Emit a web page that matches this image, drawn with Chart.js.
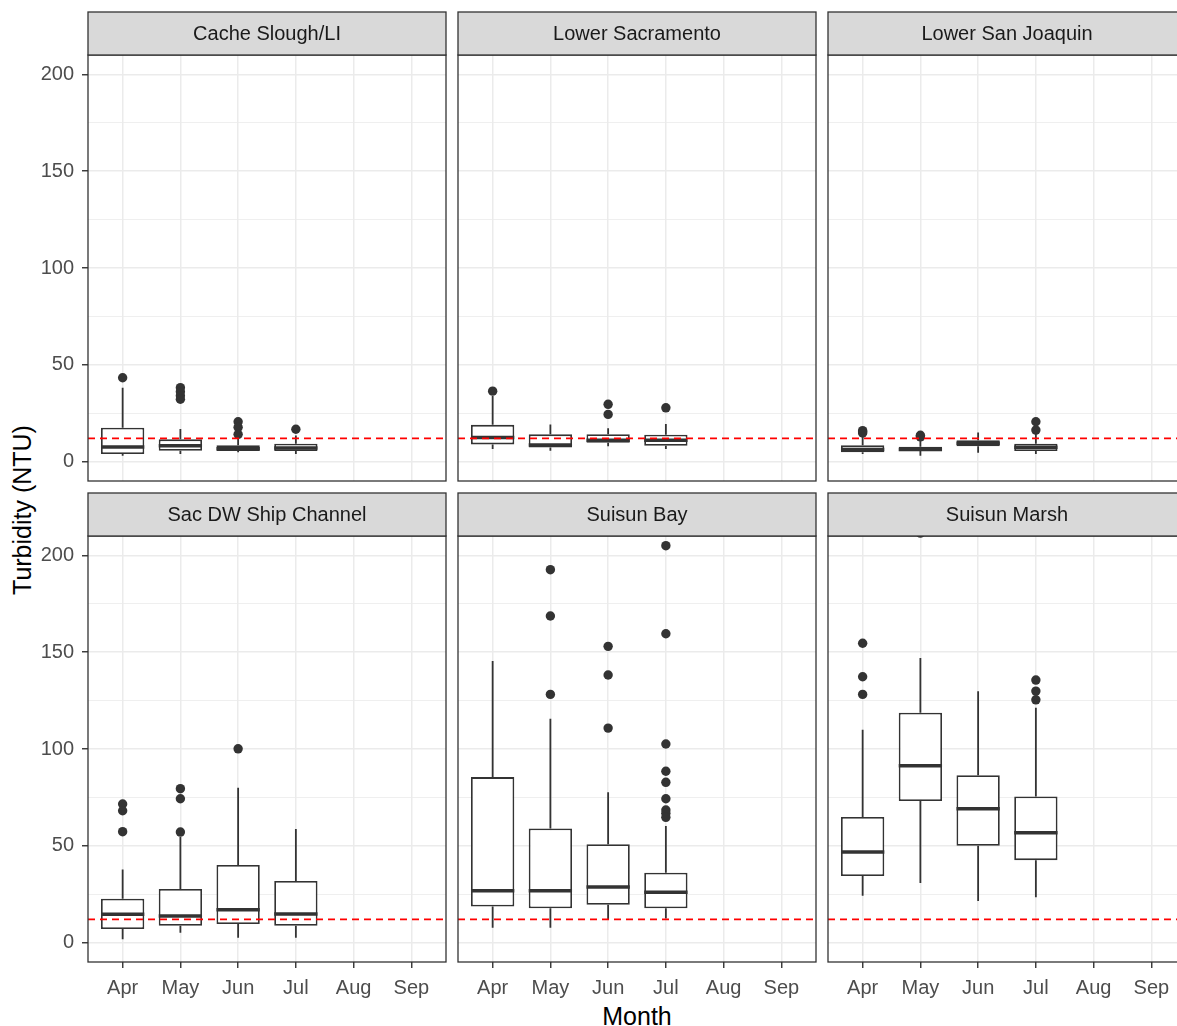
<!DOCTYPE html>
<html>
<head>
<meta charset="utf-8">
<script src="https://cdn.jsdelivr.net/npm/chart.js@4.4.1/dist/chart.umd.min.js"></script>
<style>
  html, body { margin: 0; padding: 0; background: #fff; overflow: hidden; }
  body { width: 1177px; height: 1026px; position: relative; font-family: "Liberation Sans", Arial, sans-serif; }
  .panel { position: absolute; }
  #ytitle { position: absolute; left: 22px; top: 510px; transform: translate(-50%, -50%) rotate(-90deg); font-size: 25px; white-space: nowrap; color: #000; }
  #xtitle { position: absolute; left: 637px; top: 1016px; transform: translate(-50%, -50%); font-size: 25px; color: #000; }
</style>
</head>
<body>
<div id="ytitle">Turbidity (NTU)</div>
<div id="xtitle">Month</div>
<script>
// Month axis and facet names
const months = ['Apr', 'May', 'Jun', 'Jul', 'Aug', 'Sep'];
const regions = ['Cache Slough/LI', 'Lower Sacramento', 'Lower San Joaquin',
                 'Sac DW Ship Channel', 'Suisun Bay', 'Suisun Marsh'];
const yTicks = [0, 25, 50, 75, 100, 125, 150, 175, 200];
const threshold = 12;

// Box stats per month (Apr..Jul): [lower whisker, Q1, median, Q3, upper whisker]
const cacheSloughBox = [[3.0, 3.9, 7.5, 17.5, 38.2], [3.9, 5.6, 8.2, 11.5, 16.8], [4.8, 5.5, 6.6, 8.4, 12.0], [3.9, 5.5, 7.0, 9.2, 13.5]];
const cacheSloughOut = [[43.3], [38.2, 36.1, 34.0, 32.2], [20.6, 17.7, 14.1], [16.7]];

const lowerSacBox = [[6.5, 8.9, 12.5, 19.0, 33.9], [5.6, 7.3, 8.6, 14.1, 19.2], [8.0, 9.7, 11.1, 14.2, 17.2], [6.5, 8.2, 11.1, 13.9, 19.4]];
const lowerSacOut = [[36.4], [], [29.6, 24.4], [27.8]];

const lowerSjBox = [[3.9, 4.8, 6.3, 8.4, 13.0], [3.0, 5.5, 6.3, 7.7, 11.5], [4.6, 8.0, 9.5, 11.1, 15.1], [3.9, 5.5, 7.4, 9.2, 14.5]];
const lowerSjOut = [[16.0, 15.4, 14.8], [13.6, 12.8], [], [20.6, 16.3]];

const sacDwscBox = [[1.8, 7.0, 14.6, 22.7, 37.8], [5.1, 8.7, 13.7, 27.7, 54.5], [2.5, 9.6, 17.0, 40.1, 80.0], [2.5, 8.7, 14.8, 31.8, 58.7]];
const sacDwscOut = [[71.6, 68.1, 57.3], [79.5, 74.3, 57.1], [100.1], []];

const suisunBayBox = [[7.7, 18.7, 26.8, 85.5, 145.4], [7.7, 17.7, 26.8, 59.0, 115.6], [11.7, 19.6, 28.7, 50.8, 77.6], [12.5, 17.7, 26.0, 36.1, 60.2]];
const suisunBayOut = [[], [192.6, 168.7, 128.2], [153.0, 138.2, 110.8], [205.0, 159.5, 102.6, 88.5, 82.8, 74.3, 68.5, 66.8, 64.7]];

const suisunMarshBox = [[24.2, 34.4, 46.8, 64.9, 109.9], [30.8, 73.1, 91.4, 118.7, 147.0], [21.5, 50.0, 69.1, 86.5, 129.8], [23.4, 42.6, 56.7, 75.5, 121.3]];
const suisunMarshOut = [[154.6, 137.3, 128.2], [211.5], [], [135.6, 129.9, 125.4]];

const boxes = [cacheSloughBox, lowerSacBox, lowerSjBox, sacDwscBox, suisunBayBox, suisunMarshBox];
const outliers = [cacheSloughOut, lowerSacOut, lowerSjOut, sacDwscOut, suisunBayOut, suisunMarshOut];

// layout of the facet grid
const panelLeft = [88, 458, 828];
const panelW = 358;
const panelH = 426;
const stripH = 43;
const stripTop = [12, 493];
const leftAxisW = 88;
const bottomAxisH = 60;

const FONT = '"Liberation Sans", Arial, sans-serif';
const DARK = '#333333';

function clipToArea(ctx, a) {
  ctx.beginPath();
  ctx.rect(a.left, a.top, a.right - a.left, a.bottom - a.top);
  ctx.clip();
}

const facetPlugin = {
  id: 'facet',
  beforeDatasetsDraw(chart, args, opts) {
    const { ctx, chartArea: a, scales: { x, y } } = chart;
    ctx.save();
    clipToArea(ctx, a);
    ctx.strokeStyle = DARK;
    ctx.lineWidth = 1.8;
    opts.stats.forEach((s, i) => {
      const px = x.getPixelForValue(i);
      ctx.beginPath();
      ctx.moveTo(px, y.getPixelForValue(s[0]));
      ctx.lineTo(px, y.getPixelForValue(s[1]));
      ctx.moveTo(px, y.getPixelForValue(s[3]));
      ctx.lineTo(px, y.getPixelForValue(s[4]));
      ctx.stroke();
    });
    ctx.restore();
  },
  afterDatasetsDraw(chart, args, opts) {
    const { ctx, chartArea: a, scales: { x, y } } = chart;
    ctx.save();
    clipToArea(ctx, a);
    ctx.strokeStyle = DARK;
    ctx.lineWidth = 3.5;
    opts.stats.forEach((s, i) => {
      const py = y.getPixelForValue(s[2]);
      ctx.beginPath();
      ctx.moveTo(x.getPixelForValue(i - 0.375), py);
      ctx.lineTo(x.getPixelForValue(i + 0.375), py);
      ctx.stroke();
    });
    // reference line
    const ty = y.getPixelForValue(threshold);
    ctx.strokeStyle = '#FF0000';
    ctx.lineWidth = 1.6;
    ctx.setLineDash([7, 5]);
    ctx.beginPath();
    ctx.moveTo(a.left, ty);
    ctx.lineTo(a.right, ty);
    ctx.stroke();
    ctx.restore();
  },
  afterDraw(chart, args, opts) {
    const { ctx, chartArea: a } = chart;
    ctx.save();
    ctx.strokeStyle = DARK;
    ctx.lineWidth = 1.3;
    ctx.strokeRect(a.left, a.top, a.right - a.left, a.bottom - a.top);
    ctx.fillStyle = '#D9D9D9';
    ctx.fillRect(a.left, a.top - stripH, a.right - a.left, stripH);
    ctx.strokeRect(a.left, a.top - stripH, a.right - a.left, stripH);
    ctx.fillStyle = '#1A1A1A';
    ctx.font = '20px ' + FONT;
    ctx.textAlign = 'center';
    ctx.textBaseline = 'middle';
    ctx.fillText(opts.title, (a.left + a.right) / 2, a.top - stripH / 2 + 1);
    ctx.restore();
  }
};

function noScalePadding(s) {
  s.paddingTop = 0;
  s.paddingBottom = 0;
  s.paddingLeft = 0;
  s.paddingRight = 0;
}

regions.forEach((name, k) => {
  const col = k % 3, row = Math.floor(k / 3);
  const isLeft = col === 0, isBottom = row === 1;
  const div = document.createElement('div');
  div.className = 'panel';
  const left = isLeft ? 0 : panelLeft[col] - 2;
  const width = isLeft ? leftAxisW + panelW + 2 : panelW + 4;
  const top = stripTop[row] - 1;
  const height = 1 + stripH + panelH + (isBottom ? bottomAxisH : 2);
  div.style.left = left + 'px';
  div.style.top = top + 'px';
  div.style.width = width + 'px';
  div.style.height = height + 'px';
  const canvas = document.createElement('canvas');
  div.appendChild(canvas);
  document.body.appendChild(div);

  const stats = boxes[k];
  const boxData = stats.map((s, i) => ({ x: i, y: [s[1], s[3]] }));
  const outData = [];
  outliers[k].forEach((vals, i) => vals.forEach(v => outData.push({ x: i, y: v })));

  new Chart(canvas, {
    type: 'bar',
    data: {
      datasets: [
        {
          type: 'scatter',
          data: outData,
          pointRadius: 4.7,
          pointBackgroundColor: DARK,
          pointBorderColor: DARK,
          pointBorderWidth: 0,
          clip: 0
        },
        {
          type: 'bar',
          data: boxData,
          backgroundColor: '#FFFFFF',
          borderColor: DARK,
          borderWidth: 1.8,
          borderSkipped: false,
          categoryPercentage: 1,
          barPercentage: 0.75
        }
      ]
    },
    options: {
      responsive: true,
      maintainAspectRatio: false,
      animation: false,
      events: [],
      layout: {
        autoPadding: false,
        padding: { left: isLeft ? 0 : 2, right: 2, top: 1 + stripH, bottom: isBottom ? 0 : 2 }
      },
      plugins: {
        legend: { display: false },
        tooltip: { enabled: false },
        facet: { stats: stats, title: name }
      },
      scales: {
        x: {
          type: 'linear',
          min: -0.6,
          max: 5.6,
          bounds: 'data',
          offset: false,
          border: { display: false },
          grid: {
            offset: false,
            color: '#EBEBEB',
            lineWidth: 1.5,
            drawTicks: isBottom,
            tickLength: 6,
            tickColor: DARK,
            tickWidth: 1.4
          },
          afterBuildTicks: (s) => { s.ticks = months.map((m, i) => ({ value: i })); },
          afterFit: (s) => { s.height = isBottom ? bottomAxisH : 0; noScalePadding(s); },
          ticks: {
            display: isBottom,
            autoSkip: false,
            maxRotation: 0,
            padding: 8,
            color: '#4D4D4D',
            font: { family: FONT, size: 20 },
            callback: (v) => months[v] ?? ''
          }
        },
        y: {
          type: 'linear',
          min: -10,
          max: 210,
          border: { display: false },
          grid: {
            color: '#EBEBEB',
            lineWidth: (c) => (c.tick && c.tick.value % 50 === 0) ? 1.5 : 0.8,
            drawTicks: isLeft,
            tickLength: 6,
            tickColor: (c) => (c.tick && c.tick.value % 50 === 0) ? DARK : 'rgba(0,0,0,0)',
            tickWidth: 1.4
          },
          afterBuildTicks: (s) => { s.ticks = yTicks.map(v => ({ value: v })); },
          afterFit: (s) => { s.width = isLeft ? leftAxisW : 0; noScalePadding(s); },
          ticks: {
            display: isLeft,
            padding: 8,
            color: '#4D4D4D',
            font: { family: FONT, size: 20 },
            callback: (v) => (v % 50 === 0 ? String(v) : '')
          }
        }
      }
    },
    plugins: [facetPlugin]
  });
});
</script>
</body>
</html>
